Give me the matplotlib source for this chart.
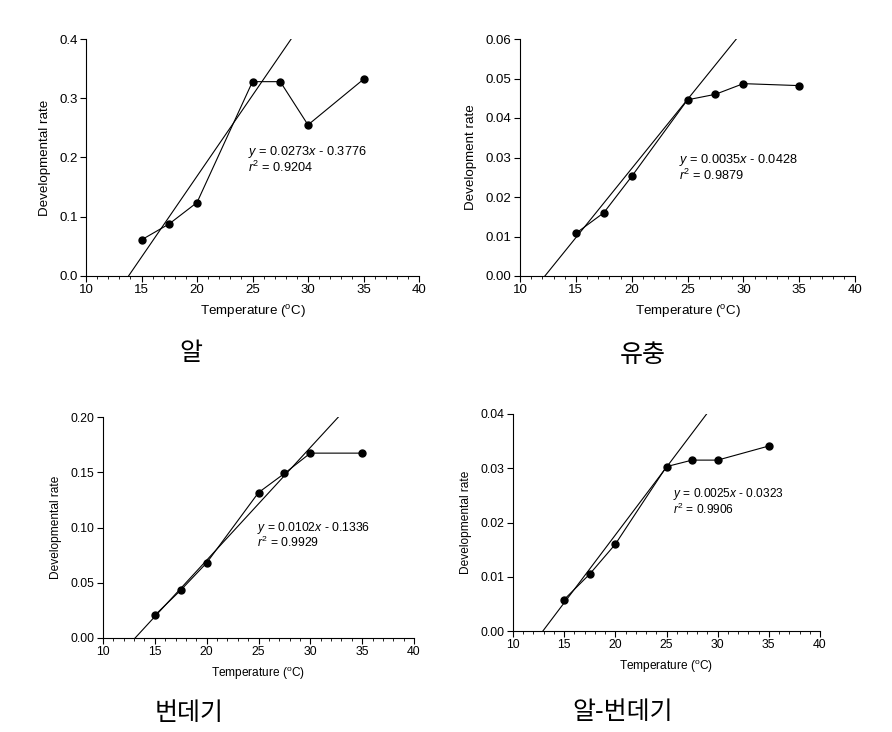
import matplotlib
matplotlib.use("Agg")
import matplotlib.pyplot as plt
import numpy as np
from matplotlib.ticker import MultipleLocator, FormatStrFormatter

plt.rcParams['font.family'] = ['Liberation Sans', 'DejaVu Sans']
plt.rcParams['mathtext.fontset'] = 'custom'
plt.rcParams['mathtext.rm'] = 'Liberation Sans'
plt.rcParams['mathtext.it'] = 'Liberation Sans:italic'

temps = [15, 17.5, 20, 25, 27.5, 30, 35]

egg_rate = [0.061, 0.088, 0.124, 0.328, 0.328, 0.255, 0.332]
larva_rate = [0.0108, 0.0160, 0.0252, 0.0446, 0.0460, 0.0487, 0.0482]
pupa_rate = [0.0206, 0.0433, 0.0680, 0.1316, 0.1489, 0.1673, 0.1673]
total_rate = [0.0058, 0.0105, 0.0160, 0.0303, 0.0315, 0.0315, 0.0341]

slopes = [0.0273, 0.0035, 0.0102, 0.0025]
intercepts = [-0.3776, -0.0428, -0.1336, -0.0323]
r2_values = ["0.9204", "0.9879", "0.9929", "0.9906"]
ymaxes = [0.4, 0.06, 0.20, 0.04]
ysteps = [0.1, 0.01, 0.05, 0.01]
yfmts = ['%.1f', '%.2f', '%.2f', '%.2f']
ylabels = ["Developmental rate", "Development rate", "Developmental rate", "Developmental rate"]
captions = ["알", "유충", "번데기", "알-번데기"]
rates = [egg_rate, larva_rate, pupa_rate, total_rate]

W, H = 892, 732
# axes boxes in pixels: left, right, top, bottom
boxes = [(86, 419, 39, 276), (520, 855, 39, 276), (103, 414, 417, 638), (513, 820, 414, 631)]
eq_pos = [(24.6, 0.209, 0.184), (24.2, 0.0294, 0.0254), (24.9, 0.0998, 0.0868), (25.65, 0.0252, 0.0224)]
captions_pos = [(191, 353), (643, 355), (189, 713), (623, 712)]
tick_fs = [9.5, 9.5, 8.8, 8.8]
lab_fs = [9.6, 9.6, 8.6, 8.6]
eq_fs = [9.2, 9.2, 8.7, 8.6]

fig = plt.figure(figsize=(W / 100, H / 100), dpi=100)

for i in range(4):
    l, r, t, b = boxes[i]
    ax = fig.add_axes([l / W, (H - b) / H, (r - l) / W, (b - t) / H])
    ax.plot(temps, rates[i], color='black', lw=0.8, marker='o', ms=5, zorder=3)
    # regression line from y=0 to y=ymax
    x0 = -intercepts[i] / slopes[i]
    x1 = (ymaxes[i] - intercepts[i]) / slopes[i]
    ax.plot([x0, x1], [0, ymaxes[i]], color='black', lw=0.8, zorder=2)
    ax.set_xlim(10, 40)
    ax.set_ylim(0, ymaxes[i])
    ax.xaxis.set_major_locator(MultipleLocator(5))
    ax.xaxis.set_minor_locator(MultipleLocator(1))
    ax.yaxis.set_major_locator(MultipleLocator(ysteps[i]))
    ax.yaxis.set_major_formatter(FormatStrFormatter(yfmts[i]))
    for s in ['top', 'right']:
        ax.spines[s].set_visible(False)
    for s in ['left', 'bottom']:
        ax.spines[s].set_linewidth(0.8)
    ax.tick_params(which='major', direction='out', length=4, width=0.8, labelsize=tick_fs[i], pad=2)
    ax.tick_params(which='minor', direction='out', length=2, width=0.6)
    ax.set_xlabel("Temperature ($\\mathregular{^o}$C)", fontsize=lab_fs[i], labelpad=5)
    ax.set_ylabel(ylabels[i], fontsize=lab_fs[i], labelpad=6)
    ex, ey1, ey2 = eq_pos[i]
    sign = '-' if intercepts[i] < 0 else '+'
    ax.text(ex, ey1, "$\\it{y}$ = %.4f$\\it{x}$ %s %.4f" % (slopes[i], sign, abs(intercepts[i])),
            fontsize=eq_fs[i], va='center', ha='left')
    ax.text(ex, ey2, "$\\it{r}^\\mathregular{2}$ = %s" % r2_values[i],
            fontsize=eq_fs[i], va='center', ha='left')
    cx, cy = captions_pos[i]
    fig.text(cx / W, (H - cy) / H, captions[i], fontsize=18, ha='center', va='center',
             family=['Noto Sans CJK KR', 'DejaVu Sans'], fontweight='light')

fig.savefig("out.png", dpi=100)
